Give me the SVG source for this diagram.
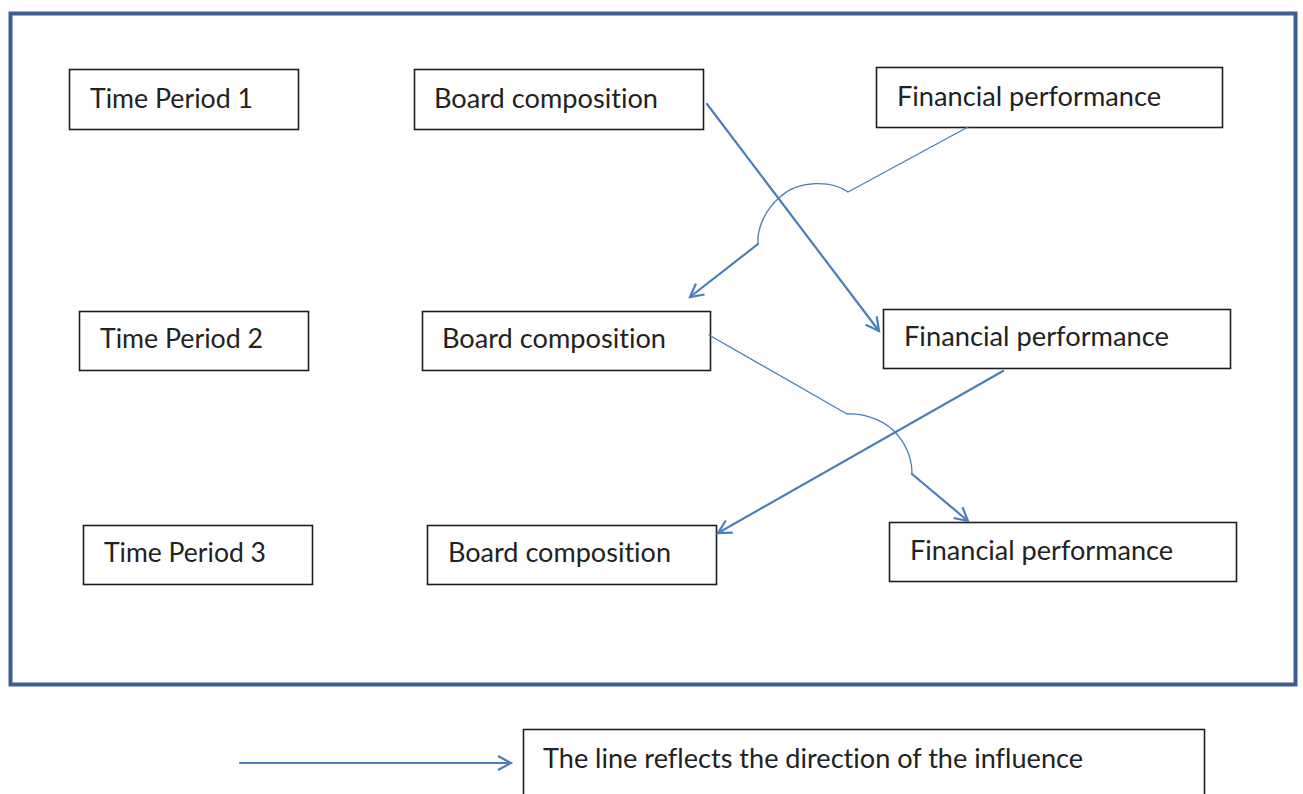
<svg xmlns="http://www.w3.org/2000/svg" width="1303" height="794" viewBox="0 0 1303 794">
<defs>
<marker id="ah" markerUnits="userSpaceOnUse" markerWidth="30" markerHeight="30" refX="14" refY="8" orient="auto" viewBox="0 0 30 30">
<path d="M1,1 L14,8 L1,15" fill="none" stroke="#4a7ebb" stroke-width="2.2" stroke-linejoin="miter"/>
</marker>
<style>
.box{fill:#fff;stroke:#1e1e1e;stroke-width:1.6}
.t{font-family:Lato,"Open Sans","Liberation Sans",sans-serif;font-size:26px;fill:#222;font-variant-ligatures:none;font-feature-settings:"liga" 0}
.c{fill:none;stroke:#4a7ebb;stroke-linecap:round;stroke-linejoin:round}
.thick{stroke-width:2.2}
.thin{stroke-width:1.3}
</style>
</defs>
<rect width="1303" height="794" fill="#fff"/>
<rect x="10.5" y="13.5" width="1285" height="671" fill="none" stroke="#3d6090" stroke-width="4"/>
<g id="tp1"><rect class="box" x="69.5" y="69.5" width="229" height="60"/><text class="t" x="90" y="108" textLength="163" lengthAdjust="spacingAndGlyphs">Time Period 1</text></g>
<g id="bc1"><rect class="box" x="414.5" y="69.5" width="289" height="60"/><text class="t" x="434" y="108" textLength="224" lengthAdjust="spacingAndGlyphs">Board composition</text></g>
<g id="fp1"><rect class="box" x="876.5" y="67.5" width="346" height="60"/><text class="t" x="897" y="106" textLength="264" lengthAdjust="spacingAndGlyphs">Financial performance</text></g>
<g id="tp2"><rect class="box" x="79.5" y="311.5" width="229" height="59"/><text class="t" x="100" y="348" textLength="163" lengthAdjust="spacingAndGlyphs">Time Period 2</text></g>
<g id="bc2"><rect class="box" x="422.5" y="311.5" width="288" height="59"/><text class="t" x="442" y="348" textLength="224" lengthAdjust="spacingAndGlyphs">Board composition</text></g>
<g id="fp2"><rect class="box" x="883.5" y="309.5" width="347" height="59"/><text class="t" x="904" y="346" textLength="265" lengthAdjust="spacingAndGlyphs">Financial performance</text></g>
<g id="tp3"><rect class="box" x="83.5" y="525.5" width="229" height="59"/><text class="t" x="104" y="562" textLength="162" lengthAdjust="spacingAndGlyphs">Time Period 3</text></g>
<g id="bc3"><rect class="box" x="427.5" y="525.5" width="289" height="59"/><text class="t" x="448" y="562" textLength="223" lengthAdjust="spacingAndGlyphs">Board composition</text></g>
<g id="fp3"><rect class="box" x="889.5" y="522.5" width="347" height="59"/><text class="t" x="910" y="560" textLength="263" lengthAdjust="spacingAndGlyphs">Financial performance</text></g>
<g id="legend"><rect class="box" x="523.5" y="729.5" width="681" height="80"/><text class="t" x="543" y="768" textLength="540" lengthAdjust="spacingAndGlyphs">The line reflects the direction of the influence</text></g>
<g id="connectors">
<path class="c thick" d="M707,104 L879,331" marker-end="url(#ah)"/>
<path class="c thin" d="M968,127 L848,192 C832,180 798,180 780,197 C765,210 757,228 758,244"/>
<path class="c thick" d="M758,244 L690,297" marker-end="url(#ah)"/>
<path class="c thin" d="M709,335 L847,414 C860,413 880,418 893,430 C905,442 912,458 912,474"/>
<path class="c thick" d="M912,474 L968,521" marker-end="url(#ah)"/>
<path class="c thick" d="M1003,371 L718,533" marker-end="url(#ah)"/>
<path class="c thick" d="M240,763 L511,763" marker-end="url(#ah)"/>
</g>
</svg>
